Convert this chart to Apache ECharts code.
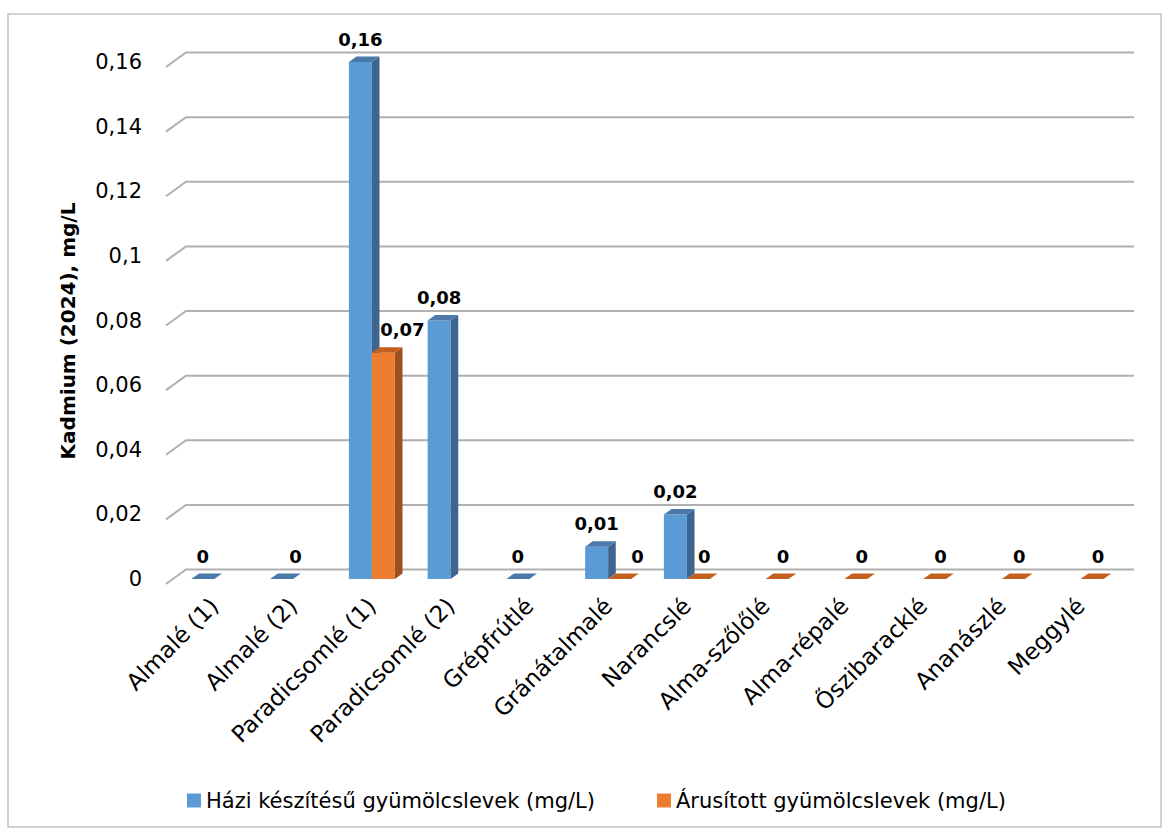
<!DOCTYPE html>
<html>
<head>
<meta charset="utf-8">
<script src="https://cdn.jsdelivr.net/npm/echarts@6/dist/echarts.min.js"></script>
<style>
  html, body { margin: 0; padding: 0; background: #ffffff; }
  #chart { width: 1167px; height: 830px; }
</style>
</head>
<body>
<div id="chart"></div>
<script>
// Juice types on the category axis
const categories = [
  'Almalé (1)', 'Almalé (2)', 'Paradicsomlé (1)', 'Paradicsomlé (2)', 'Grépfrútlé',
  'Gránátalmalé', 'Narancslé', 'Alma-szőlőlé', 'Alma-répalé', 'Őszibaracklé',
  'Ananászlé', 'Meggylé'
];
// Cadmium content, mg/L (null = not measured)
const homemadeName = 'Házi készítésű gyümölcslevek (mg/L)';
const homemade = [0, 0, 0.16, 0.08, 0, 0.01, 0.02, null, null, null, null, null];
const storeName = 'Árusított gyümölcslevek (mg/L)';
const storeBought = [null, null, 0.07, null, null, 0, 0, 0, 0, 0, 0, 0];
// Value axis ticks
const yTicks = [0, 0.02, 0.04, 0.06, 0.08, 0.1, 0.12, 0.14, 0.16];
const yTitle = 'Kadmium (2024), mg/L';

const fmt = v => (v === 0 ? '0' : String(+v.toFixed(2)).replace('.', ','));

// small horizontal nudges for value labels that would otherwise collide
const labelNudge = {
  home: { 1: 14 },
  store: { 2: 13, 5: 12 }
};

const palette = {
  home: { front: '#5b9bd5', side: '#3d6590', top: '#4a79aa' },
  store: { front: '#ed7d31', side: '#9e5120', top: '#c4601f' }
};

function toData(arr) {
  const out = [];
  arr.forEach((v, i) => { if (v !== null) out.push([i, v]); });
  return out;
}

// 3D-looking column: front face, right side face, top face and value label
function makeBarRenderer(key, leftHalf, baseLabelDx) {
  const c = palette[key];
  return function (params, api) {
    const k = api.value(0);
    const v = api.value(1);
    const base = api.coord([k, 0]);
    const top = api.coord([k, v]);
    const band = api.size([1, 0])[0];
    const w = band * 0.292;
    const dx = band * 0.097;
    const dy = -5.5;
    const x0 = leftHalf ? base[0] - w : base[0];
    const yt = top[1], yb = base[1];
    const nudge = (labelNudge[key] && labelNudge[key][k]) || 0;
    return {
      type: 'group',
      children: [
        { type: 'rect', shape: { x: x0, y: yt, width: w, height: yb - yt }, style: { fill: c.front } },
        { type: 'polygon', shape: { points: [[x0 + w, yt], [x0 + w + dx, yt + dy], [x0 + w + dx, yb + dy], [x0 + w, yb]] }, style: { fill: c.side } },
        { type: 'polygon', shape: { points: [[x0, yt], [x0 + dx, yt + dy], [x0 + w + dx, yt + dy], [x0 + w, yt]] }, style: { fill: c.top } },
        {
          type: 'text',
          style: {
            x: x0 + w / 2 + baseLabelDx + nudge, y: yt - 23,
            text: fmt(v), textAlign: 'center', textVerticalAlign: 'middle',
            fill: '#000', font: 'bold 18px "DejaVu Sans"'
          }
        }
      ]
    };
  };
}

// back-wall gridlines with the short diagonal toward the value axis
function renderGrid(params, api) {
  const v = api.value(1);
  const y = api.coord([0, v])[1];
  const band = api.size([1, 0])[0];
  const xs = api.coord([0, 0])[0] - band / 2;
  const xe = api.coord([categories.length - 1, 0])[0] + band / 2;
  return {
    type: 'polyline',
    shape: { points: [[xs - 9, y + 5], [xs + 11, y - 9.5], [xe + 14, y - 9.5]] },
    style: { stroke: '#b0b0b0', lineWidth: 2, fill: null }
  };
}

const chart = echarts.init(document.getElementById('chart'), null, { renderer: 'svg' });

chart.setOption({
  backgroundColor: '#ffffff',
  animation: false,
  grid: { left: 175, right: 47, top: 62, bottom: 251 },
  xAxis: {
    type: 'category',
    data: categories,
    axisLine: { show: false },
    axisTick: { show: false },
    axisLabel: {
      rotate: 45, interval: 0, margin: 23,
      fontFamily: 'DejaVu Sans', fontSize: 23, color: '#000'
    }
  },
  yAxis: {
    type: 'value',
    min: 0, max: 0.16, interval: 0.02,
    axisLine: { show: false },
    axisTick: { show: false },
    splitLine: { show: false },
    axisLabel: {
      margin: 33, formatter: fmt, padding: [10, 0, 0, 0],
      fontFamily: 'DejaVu Sans', fontSize: 21, color: '#000'
    }
  },
  legend: {
    left: 182, top: 785,
    itemWidth: 14, itemHeight: 14, itemGap: 62,
    icon: 'rect',
    textStyle: { fontFamily: 'DejaVu Sans', fontSize: 21, color: '#000' },
    data: [
      { name: homemadeName, itemStyle: { color: palette.home.front } },
      { name: storeName, itemStyle: { color: palette.store.front } }
    ]
  },
  graphic: [
    {
      type: 'rect', silent: true, z: -10,
      shape: { x: 8, y: 14, width: 1153, height: 813 },
      style: { fill: null, stroke: '#c4c4c4', lineWidth: 1.5 }
    },
    {
      type: 'text', x: 68, y: 331, rotation: Math.PI / 2,
      style: {
        text: yTitle, textAlign: 'center', textVerticalAlign: 'middle',
        fill: '#000', font: 'bold 20px "DejaVu Sans"'
      }
    }
  ],
  series: [
    {
      type: 'custom', name: 'grid', silent: true, z: 1,
      renderItem: renderGrid,
      encode: { x: 0, y: 1 },
      data: yTicks.map(v => [0, v])
    },
    {
      type: 'custom', name: homemadeName, z: 3,
      itemStyle: { color: palette.home.front },
      renderItem: makeBarRenderer('home', true, 0),
      encode: { x: 0, y: 1 },
      data: toData(homemade)
    },
    {
      type: 'custom', name: storeName, z: 3,
      itemStyle: { color: palette.store.front },
      renderItem: makeBarRenderer('store', false, 6),
      encode: { x: 0, y: 1 },
      data: toData(storeBought)
    }
  ]
});
</script>
</body>
</html>
